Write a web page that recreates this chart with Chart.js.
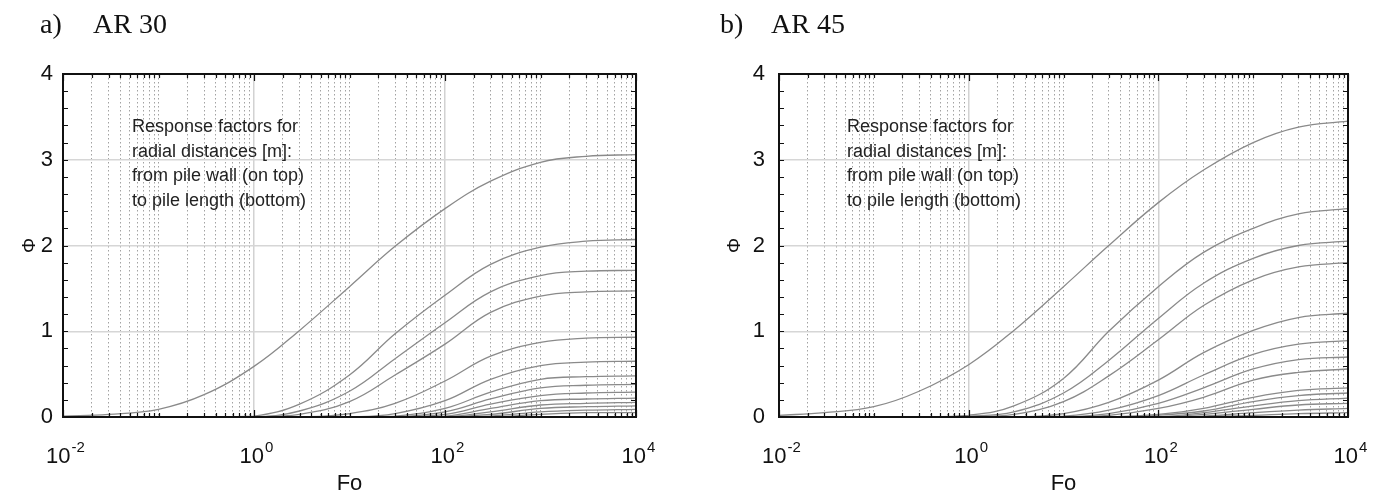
<!DOCTYPE html>
<html>
<head>
<meta charset="utf-8">
<script src="https://cdn.jsdelivr.net/npm/chart.js@4.4.1/dist/chart.umd.min.js"></script>
<style>
  body { margin: 0; background: #fff; width: 1381px; height: 497px; overflow: hidden; position: relative; }
  .panel { position: absolute; top: 0; height: 497px; }
  .tag { position: absolute; top: 8px; font: 28px "Liberation Serif", serif; color: #111; white-space: pre; }
  .note { position: absolute; top: 114px; font: 18px "Liberation Sans", Arial, sans-serif; color: #222; line-height: 24.5px; }
</style>
</head>
<body>
<div class="panel" style="left:0;width:690px"><canvas id="chartA"></canvas></div>
<div class="panel" style="left:690px;width:691px"><canvas id="chartB"></canvas></div>
<div class="tag" style="left:40px">a)</div>
<div class="tag" style="left:93px">AR 30</div>
<div class="tag" style="left:720px">b)</div>
<div class="tag" style="left:771px">AR 45</div>
<div class="note" style="left:132px">Response factors for<br>radial distances [m]:<br>from pile wall (on top)<br>to pile length (bottom)</div>
<div class="note" style="left:847px">Response factors for<br>radial distances [m]:<br>from pile wall (on top)<br>to pile length (bottom)</div>
<script>
// Fourier number sample points (x axis)
var foValues = [0.01, 0.03, 0.1, 0.3, 1, 3, 10, 30, 100, 300, 1000, 3000, 10000];

// response factor curves (top curve = pile wall)
var ar30 = [
  [0.01, 0.03, 0.09, 0.26, 0.59, 1.01, 1.52, 1.99, 2.43, 2.75, 2.97, 3.04, 3.06],
  [0, 0, 0, 0, 0.01, 0.15, 0.49, 0.97, 1.42, 1.78, 1.98, 2.05, 2.07],
  [0, 0, 0, 0, 0, 0.07, 0.30, 0.68, 1.10, 1.46, 1.65, 1.70, 1.71],
  [0, 0, 0, 0, 0, 0.03, 0.18, 0.49, 0.85, 1.22, 1.41, 1.46, 1.47],
  [0, 0, 0, 0, 0, 0, 0.04, 0.16, 0.42, 0.71, 0.87, 0.92, 0.93],
  [0, 0, 0, 0, 0, 0, 0, 0.04, 0.19, 0.44, 0.60, 0.64, 0.65],
  [0, 0, 0, 0, 0, 0, 0, 0.01, 0.10, 0.29, 0.44, 0.47, 0.48],
  [0, 0, 0, 0, 0, 0, 0, 0, 0.06, 0.21, 0.34, 0.37, 0.38],
  [0, 0, 0, 0, 0, 0, 0, 0, 0.03, 0.15, 0.25, 0.28, 0.29],
  [0, 0, 0, 0, 0, 0, 0, 0, 0.01, 0.10, 0.19, 0.21, 0.22],
  [0, 0, 0, 0, 0, 0, 0, 0, 0, 0.06, 0.14, 0.16, 0.17],
  [0, 0, 0, 0, 0, 0, 0, 0, 0, 0.03, 0.10, 0.12, 0.13],
  [0, 0, 0, 0, 0, 0, 0, 0, 0, 0.01, 0.06, 0.08, 0.09],
  [0, 0, 0, 0, 0, 0, 0, 0, 0, 0, 0.03, 0.05, 0.05]
];

var ar45 = [
  [0.02, 0.05, 0.12, 0.30, 0.61, 1.01, 1.52, 2.00, 2.50, 2.88, 3.20, 3.38, 3.45],
  [0, 0, 0, 0, 0.02, 0.13, 0.45, 1.00, 1.52, 1.92, 2.20, 2.37, 2.43],
  [0, 0, 0, 0, 0.01, 0.06, 0.28, 0.66, 1.15, 1.56, 1.85, 2.00, 2.05],
  [0, 0, 0, 0, 0, 0.03, 0.18, 0.48, 0.90, 1.30, 1.60, 1.75, 1.80],
  [0, 0, 0, 0, 0, 0, 0.04, 0.17, 0.43, 0.75, 1.01, 1.16, 1.21],
  [0, 0, 0, 0, 0, 0, 0.01, 0.08, 0.25, 0.49, 0.73, 0.85, 0.89],
  [0, 0, 0, 0, 0, 0, 0, 0.04, 0.16, 0.34, 0.56, 0.67, 0.70],
  [0, 0, 0, 0, 0, 0, 0, 0.02, 0.10, 0.23, 0.43, 0.52, 0.56],
  [0, 0, 0, 0, 0, 0, 0, 0, 0.03, 0.10, 0.23, 0.31, 0.34],
  [0, 0, 0, 0, 0, 0, 0, 0, 0.02, 0.07, 0.18, 0.25, 0.28],
  [0, 0, 0, 0, 0, 0, 0, 0, 0, 0.05, 0.13, 0.19, 0.22],
  [0, 0, 0, 0, 0, 0, 0, 0, 0, 0.03, 0.09, 0.14, 0.16],
  [0, 0, 0, 0, 0, 0, 0, 0, 0, 0.01, 0.05, 0.08, 0.10],
  [0, 0, 0, 0, 0, 0, 0, 0, 0, 0, 0.02, 0.04, 0.05]
];

// axis ticks
var xMajorValues = [0.01, 1, 100, 10000];
var xTickExponents = ['-2', '0', '2', '4'];
var xGridValues = [];
[0.01, 0.1, 1, 10, 100, 1000].forEach(function (d) {
  for (var k = 1; k <= 9; k++) xGridValues.push(+(d * k).toPrecision(3));
});
xGridValues.push(10000);
var yMinorTicks = [0.2, 0.4, 0.6, 0.8, 1, 1.2, 1.4, 1.6, 1.8, 2, 2.2, 2.4, 2.6, 2.8, 3, 3.2, 3.4, 3.6, 3.8];

var FONT = '"Liberation Sans", Arial, sans-serif';

function isMajor(v) {
  return xMajorValues.some(function (m) { return Math.abs(v / m - 1) < 1e-6; });
}

var framePlugin = {
  id: 'frame',
  afterDatasetsDraw: function (chart) {
    var c = chart.ctx, a = chart.chartArea, x = chart.scales.x, y = chart.scales.y;
    c.save();
    c.strokeStyle = '#111';
    c.lineWidth = 1.2;
    c.beginPath();
    xGridValues.forEach(function (v) {
      var px = Math.round(x.getPixelForValue(v)) + 0.5;
      var len = isMajor(v) ? 7 : 4;
      c.moveTo(px, a.bottom); c.lineTo(px, a.bottom - len);
      c.moveTo(px, a.top); c.lineTo(px, a.top + len);
    });
    yMinorTicks.forEach(function (v) {
      var py = Math.round(y.getPixelForValue(v)) + 0.5;
      c.moveTo(a.left, py); c.lineTo(a.left + 5, py);
      c.moveTo(a.right, py); c.lineTo(a.right - 5, py);
    });
    c.stroke();
    c.lineWidth = 2;
    c.strokeRect(a.left, a.top, a.right - a.left, a.bottom - a.top);

    // x tick labels as 10 with a raised exponent
    c.fillStyle = '#111';
    c.textBaseline = 'alphabetic';
    c.textAlign = 'left';
    xMajorValues.forEach(function (v, i) {
      var px = x.getPixelForValue(v);
      c.font = '22px ' + FONT;
      var w1 = c.measureText('10').width;
      c.font = '15px ' + FONT;
      var w2 = c.measureText(xTickExponents[i]).width;
      var x0 = px - (w1 + w2) / 2 + 2;
      c.font = '22px ' + FONT;
      c.fillText('10', x0, a.bottom + 46);
      c.font = '15px ' + FONT;
      c.fillText(xTickExponents[i], x0 + w1 + 1, a.bottom + 35);
    });
    c.restore();
  }
};

function makeChart(id, curves, yWidth, rightPad, titlePad, labelPad) {
  var datasets = curves.map(function (row) {
    return {
      data: foValues.map(function (f, i) { return { x: f, y: row[i] }; }),
      borderColor: '#8a8a8a',
      borderWidth: 1.3,
      pointRadius: 0,
      tension: 0.4,
      fill: false
    };
  });
  return new Chart(document.getElementById(id), {
    type: 'line',
    data: { datasets: datasets },
    options: {
      responsive: true,
      maintainAspectRatio: false,
      animation: false,
      events: [],
      layout: { padding: { left: 0, top: 74, right: rightPad, bottom: 0 } },
      plugins: { legend: { display: false }, tooltip: { enabled: false } },
      scales: {
        x: {
          type: 'logarithmic',
          min: 0.01,
          max: 10000,
          afterBuildTicks: function (s) {
            s.ticks = xGridValues.map(function (v) { return { value: v, major: isMajor(v) }; });
          },
          afterFit: function (s) { s.height = 80; },
          ticks: {
            autoSkip: false,
            maxRotation: 0,
            callback: function () { return ''; }
          },
          grid: {
            drawTicks: false,
            lineWidth: function (ctx) { return ctx.tick && isMajor(ctx.tick.value) ? 1.5 : 1; },
            color: function (ctx) { return ctx.tick && isMajor(ctx.tick.value) ? '#d2d2d2' : '#a2a2a2'; }
          },
          border: {
            display: false,
            dash: function (ctx) { return ctx.tick && isMajor(ctx.tick.value) ? [] : [1.5, 2.5]; }
          },
          title: {
            display: true,
            text: 'Fo',
            color: '#111',
            padding: { top: 0, bottom: 0 },
            font: { family: FONT, size: 22 }
          }
        },
        y: {
          min: 0,
          max: 4,
          afterFit: function (s) { s.width = yWidth; },
          ticks: {
            stepSize: 1,
            padding: labelPad,
            color: '#111',
            font: { family: FONT, size: 22 }
          },
          grid: { drawTicks: false, color: '#d6d6d6', lineWidth: 1.5 },
          border: { display: false },
          title: {
            display: true,
            text: '\u03A6',
            color: '#111',
            padding: { top: titlePad, bottom: 0 },
            font: { family: FONT, size: 19 }
          }
        }
      }
    },
    plugins: [framePlugin]
  });
}

makeChart('chartA', ar30, 63, 54, 18, 10);
makeChart('chartB', ar45, 89, 33, 33, 14);
</script>
</body>
</html>
